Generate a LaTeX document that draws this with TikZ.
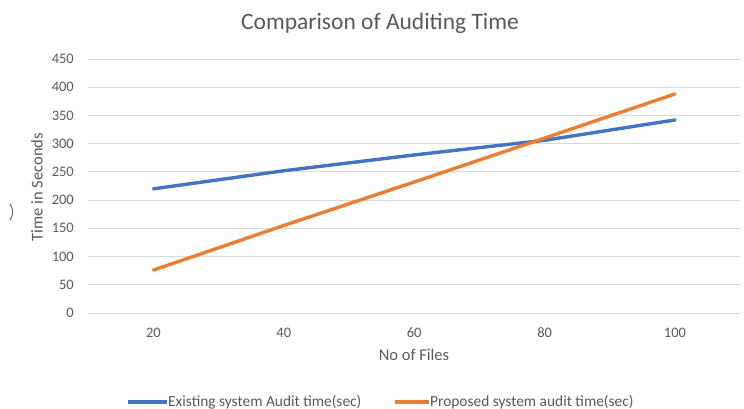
\documentclass[tikz,border=0pt]{standalone}
\usepackage{fontspec}
\setmainfont{Carlito}
\usetikzlibrary{positioning}
\definecolor{txtgray}{RGB}{89,89,89}
\definecolor{gridgray}{RGB}{217,217,217}
\definecolor{serblue}{RGB}{68,114,196}
\definecolor{serorange}{RGB}{237,125,49}

\begin{document}
\begin{tikzpicture}[x=1pt, y=1pt,
  tick/.style={font=\fontsize{14.5}{16}\selectfont, text=txtgray, inner sep=0pt},
  axtitle/.style={font=\fontsize{16.5}{18}\selectfont, text=txtgray, inner sep=0pt},
  legtxt/.style={font=\fontsize{15.4}{17}\selectfont, text=txtgray, inner sep=0pt, anchor=west},
  series/.style={line width=3.4pt, line cap=round, line join=round},
  grid line/.style={draw=gridgray, line width=0.8pt}]

  \useasboundingbox (0,0) rectangle (744,409);

  % ---------- title ----------
  \node[font=\fontsize{23.5}{26}\selectfont, text=txtgray, inner sep=0pt] (title) at (380,386) {Comparison of Auditing Time};

  % ---------- grid and value axis ----------
  \foreach \v [count=\i from 0] in {0,50,...,450} {
    \draw[grid line] (88,{96+0.5644*\v}) -- (740,{96+0.5644*\v});
    \node[tick, anchor=east] (ytick\i) at (74,{96+0.5644*\v}) {\v};
  }
  \node[axtitle, rotate=90] (ytitle) at (37,222) {Time in Seconds};
  \draw[txtgray, line width=0.9pt] (10,205) .. controls (13.5,201) and (13.5,193) .. (10,189);

  % ---------- category axis ----------
  \foreach \c [count=\i] in {20,40,60,80,100}
    \node[tick] (xtick\i) at ({23+130.4*\i},76) {\c};
  \node[axtitle] (xtitle) at (414,54) {No of Files};

  % ---------- data ----------
  \draw[series, serblue] (153.4,{96+0.5644*220}) -- (283.8,{96+0.5644*252})
    -- (414.2,{96+0.5644*280}) -- (544.6,{96+0.5644*306}) -- (675,{96+0.5644*342});
  \draw[series, serorange] (153.4,{96+0.5644*76}) -- (283.8,{96+0.5644*155})
    -- (414.2,{96+0.5644*232}) -- (544.6,{96+0.5644*310}) -- (675,{96+0.5644*388});

  % ---------- legend ----------
  \coordinate (lega) at (128,7);
  \coordinate (legb) at (395,7);
  \draw[serblue, line width=3.4pt] (lega) -- ++(39,0) coordinate (lega2);
  \node[legtxt] (legatext) at ([xshift=1pt]lega2) {Existing system Audit time(sec)};
  \draw[serorange, line width=3.4pt] (legb) -- ++(34,0) coordinate (legb2);
  \node[legtxt] (legbtext) at ([xshift=1pt]legb2) {Proposed system audit time(sec)};
\end{tikzpicture}
\end{document}
